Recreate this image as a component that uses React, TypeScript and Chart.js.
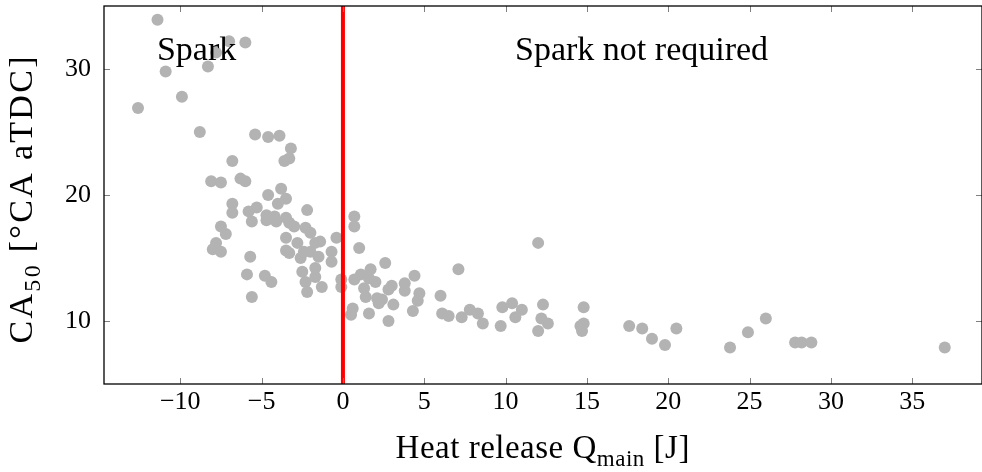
import React, { useEffect, useRef } from 'react';
import { Chart, registerables } from 'chart.js';

Chart.register(...registerables);

// Heat release Q_main [J]
const heatRelease = [
  -11.4, -7.0, -6.0, -7.8, -8.3, -10.9, -9.9, -12.6, -8.8, -5.4,
  -4.6, -3.9, -3.2, -3.3, -3.6, -6.8, -8.1, -7.5, -6.3, -6.0,
  -4.6, -3.8, -3.5, -4.0, -6.8, -6.8, -5.8, -5.3, -4.7, -4.2,
  -2.2, -3.5, -5.6, -4.7, -4.1, -3.3, -3.0, -2.3, -2.0, -7.5,
  -7.2, -7.8, -8.0, -7.5, -5.7, -5.9, -4.8, -4.4, -5.6, -3.5,
  -3.5, -3.3, -2.8, -2.6, -2.4, -2.0, -1.7, -1.4, -1.5, -2.5,
  -2.3, -2.2, -1.7, -1.7, -1.3, -0.7, -0.7, -0.4, -0.1, -0.1,
  0.7, 0.7, 1.0, 2.6, 7.1, 0.7, 1.1, 1.7, 1.6, 2.0,
  1.3, 1.4, 2.1, 2.4, 2.2, 3.0, 2.8, 3.8, 3.8, 4.4,
  4.7, 4.6, 3.1, 4.3, 0.6, 0.5, 1.6, 2.8, 6.0, 6.1,
  6.5, 7.3, 7.8, 8.3, 8.6, 12.0, 9.8, 10.4, 11.0, 10.6,
  9.7, 12.3, 12.2, 12.6, 12.0, 14.8, 14.8, 14.6, 14.7, 17.6,
  18.4, 19.0, 19.8, 20.5, 23.8, 24.9, 26.0, 27.8, 28.2, 28.8,
  37.0,
];

// CA50 [°CA aTDC]
const ca50 = [
  33.9, 32.2, 32.1, 31.3, 30.2, 29.8, 27.8, 26.9, 25.0, 24.8,
  24.6, 24.7, 23.7, 22.9, 22.7, 22.7, 21.1, 21.0, 21.3, 21.1,
  20.0, 20.5, 19.7, 19.3, 19.3, 18.6, 18.7, 19.0, 18.4, 18.3,
  18.8, 18.2, 17.9, 18.0, 17.9, 17.8, 17.5, 17.4, 17.0, 17.5,
  16.9, 16.2, 15.7, 15.5, 15.1, 13.7, 13.6, 13.1, 11.9, 16.6,
  15.6, 15.4, 16.2, 15.0, 15.5, 15.5, 16.2, 16.3, 15.1, 13.9,
  13.1, 12.3, 13.5, 14.2, 12.7, 15.5, 14.7, 16.6, 13.3, 12.7,
  18.3, 17.5, 15.8, 14.6, 14.1, 13.3, 13.7, 14.1, 13.4, 13.1,
  12.6, 11.9, 11.8, 11.7, 11.4, 12.8, 12.5, 13.0, 12.4, 13.6,
  12.2, 11.6, 11.3, 10.8, 11.0, 10.5, 10.6, 10.0, 12.0, 10.6,
  10.4, 10.3, 10.9, 10.6, 9.8, 16.2, 11.1, 11.4, 10.9, 10.3,
  9.6, 11.3, 10.2, 9.8, 9.2, 11.1, 9.8, 9.6, 9.2, 9.6,
  9.4, 8.6, 8.1, 9.4, 7.9, 9.1, 10.2, 8.3, 8.3, 8.3,
  7.9,
];

// Spark boundary (vertical red line at Q_main = 0)
const boundaryX = [0, 0];
const boundaryY = [5, 35];

const xMin = -14.69;
const xMax = 39.29;
const yMin = 5;
const yMax = 35;
const xTickValues = [-10, -5, 0, 5, 10, 15, 20, 25, 30, 35];
const xTickLabels = ['\u221210', '\u22125', '0', '5', '10', '15', '20', '25', '30', '35'];
const yTickValues = [10, 20, 30];
const yTickLabels = ['10', '20', '30'];

const regionLabels = ['Spark', 'Spark not required'];
const regionLabelX = [-9.0, 18.36];
const regionLabelY = [30.71, 30.71];

// axis titles as [text, isSubscript] runs
const xTitleRuns: [string, boolean][] = [['Heat release Q', false], ['main', true], [' [J]', false]];
const yTitleRuns: [string, boolean][] = [['CA', false], ['50', true], [' [\u00B0CA aTDC]', false]];

const SERIF = '"Liberation Serif", "DejaVu Serif", serif';

function drawRich(
  ctx: CanvasRenderingContext2D,
  runs: [string, boolean][],
  cx: number,
  cy: number,
  rotation: number,
  mainSize: number,
  subSize: number,
  spacing: number,
) {
  const items: { ch: string; size: number; dx: number; sub: boolean }[] = [];
  let w = 0;
  runs.forEach(([text, sub]) => {
    const size = sub ? subSize : mainSize;
    ctx.font = `${size}px ${SERIF}`;
    for (const ch of text) {
      const cw = ctx.measureText(ch).width;
      items.push({ ch, size, dx: w, sub });
      w += cw + spacing;
    }
  });
  w -= spacing;
  ctx.save();
  ctx.translate(cx, cy);
  ctx.rotate(rotation);
  ctx.textAlign = 'left';
  ctx.textBaseline = 'alphabetic';
  ctx.fillStyle = '#000';
  items.forEach((it) => {
    ctx.font = `${it.size}px ${SERIF}`;
    ctx.fillText(it.ch, -w / 2 + it.dx, it.sub ? mainSize * 0.24 : 0);
  });
  ctx.restore();
}

const framePlugin = {
  id: 'frameAndLabels',
  afterDatasetsDraw(chart: any) {
    const { ctx, chartArea, scales } = chart;
    const { left, right, top, bottom } = chartArea;
    const xs = scales.x;
    const ys = scales.y;
    ctx.save();
    // inward tick marks on all four sides
    ctx.strokeStyle = '#808080';
    ctx.lineWidth = 1;
    ctx.beginPath();
    xTickValues.forEach((v) => {
      const px = Math.round(xs.getPixelForValue(v)) + 0.5;
      ctx.moveTo(px, bottom);
      ctx.lineTo(px, bottom - 6);
      ctx.moveTo(px, top);
      ctx.lineTo(px, top + 6);
    });
    yTickValues.forEach((v) => {
      const py = Math.round(ys.getPixelForValue(v)) + 0.5;
      ctx.moveTo(left, py);
      ctx.lineTo(left + 6, py);
      ctx.moveTo(right, py);
      ctx.lineTo(right - 6, py);
    });
    ctx.stroke();
    // frame
    ctx.strokeStyle = '#000';
    ctx.lineWidth = 1.3;
    ctx.strokeRect(left, top, right - left, bottom - top);
    // region labels
    ctx.fillStyle = '#000';
    ctx.font = '34px ' + SERIF;
    ctx.textAlign = 'center';
    ctx.textBaseline = 'alphabetic';
    regionLabels.forEach((t, i) => {
      ctx.fillText(t, xs.getPixelForValue(regionLabelX[i]), ys.getPixelForValue(regionLabelY[i]));
    });
    // axis titles
    drawRich(ctx, xTitleRuns, (left + 981) / 2, 458, 0, 33, 23, 0.5);
    drawRich(ctx, yTitleRuns, 32, 200, -Math.PI / 2, 34, 24, 2.3);
    ctx.restore();
  },
};

export default function App() {
  const canvasRef = useRef<HTMLCanvasElement | null>(null);

  useEffect(() => {
    const canvas = canvasRef.current;
    if (!canvas) return;
    const points = heatRelease.map((x, i) => ({ x, y: ca50[i] }));
    const boundary = boundaryX.map((x, i) => ({ x, y: boundaryY[i] }));
    const chart = new Chart(canvas, {
      type: 'scatter',
      data: {
        datasets: [
          {
            label: 'boundary',
            data: boundary,
            showLine: true,
            borderColor: '#ff0000',
            borderWidth: 4,
            pointRadius: 0,
            pointHoverRadius: 0,
          },
          {
            label: 'CA50',
            data: points,
            backgroundColor: '#b3b3b3',
            borderColor: '#b3b3b3',
            borderWidth: 0,
            pointRadius: 6,
            pointHoverRadius: 6,
          },
        ],
      },
      options: {
        animation: false,
        responsive: false,
        events: [],
        layout: { autoPadding: false, padding: { top: 6, right: -1, left: 0, bottom: 0 } },
        plugins: {
          legend: { display: false },
          tooltip: { enabled: false },
        },
        scales: {
          x: {
            type: 'linear',
            min: xMin,
            max: xMax,
            afterBuildTicks: (s: any) => {
              s.ticks = xTickValues.map((v) => ({ value: v }));
            },
            afterFit: (s: any) => {
              s.height = 88;
              s.paddingLeft = 0;
              s.paddingRight = 0;
              s.paddingTop = 0;
              s.paddingBottom = 0;
            },
            grid: { display: false, drawTicks: false },
            border: { display: false },
            ticks: {
              padding: 3,
              maxRotation: 0,
              autoSkip: false,
              color: '#000',
              font: { family: SERIF, size: 26 },
              callback: (v: any) => {
                const i = xTickValues.indexOf(Number(v));
                return i >= 0 ? xTickLabels[i] : '';
              },
            },
          },
          y: {
            type: 'linear',
            min: yMin,
            max: yMax,
            afterBuildTicks: (s: any) => {
              s.ticks = yTickValues.map((v) => ({ value: v }));
            },
            afterFit: (s: any) => {
              s.width = 104;
              s.paddingLeft = 0;
              s.paddingRight = 0;
              s.paddingTop = 0;
              s.paddingBottom = 0;
            },
            grid: { display: false, drawTicks: false },
            border: { display: false },
            ticks: {
              padding: 13,
              autoSkip: false,
              color: '#000',
              font: { family: SERIF, size: 26 },
              callback: (v: any) => {
                const i = yTickValues.indexOf(Number(v));
                return i >= 0 ? yTickLabels[i] : '';
              },
            },
          },
        },
      },
      plugins: [framePlugin],
    });
    return () => chart.destroy();
  }, []);

  return (
    <div style={{ position: 'fixed', left: 0, top: 0, width: 982, height: 472, background: '#fff' }}>
      <canvas ref={canvasRef} width={982} height={472} style={{ display: 'block' }} />
    </div>
  );
}
